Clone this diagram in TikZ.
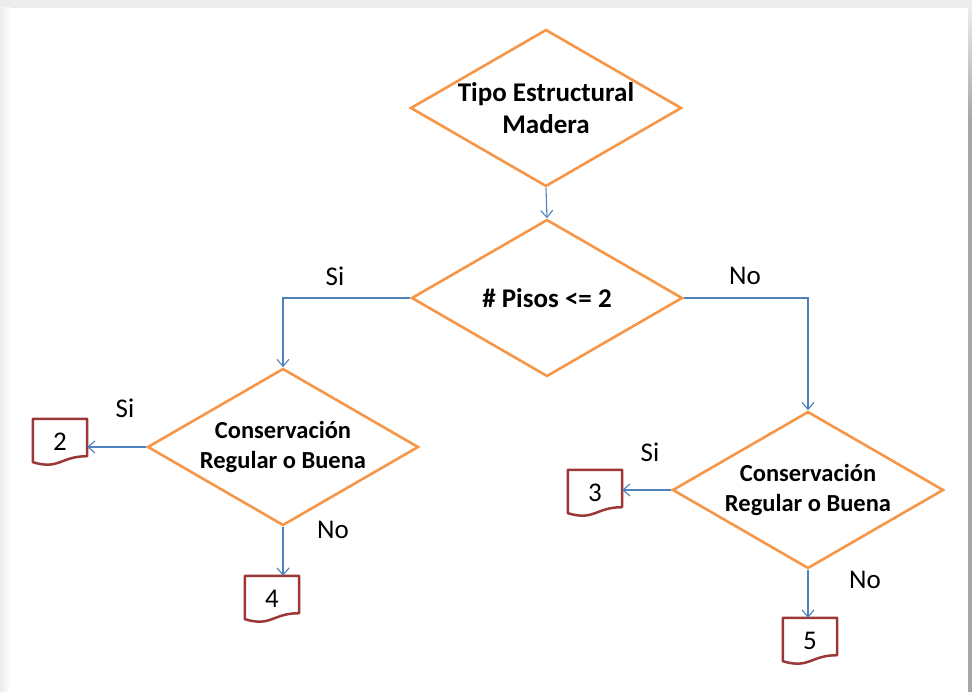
\documentclass[tikz,border=0pt]{standalone}
\usepackage{fontspec}
\setmainfont{Carlito}
\usetikzlibrary{shapes.geometric}
\usetikzlibrary{arrows.meta}
\definecolor{dorange}{RGB}{247,150,70}
\definecolor{lblue}{RGB}{79,129,189}
\definecolor{dred}{RGB}{155,55,55}
\definecolor{framegray}{RGB}{236,236,236}

\tikzset{
  decision/.style={diamond, aspect=1.73, draw=dorange, line width=2.6pt, fill=white,
    minimum width=271pt, minimum height=157pt, inner sep=-8pt, align=center,
    font=\bfseries\fontsize{27}{32}\selectfont},
  smalltext/.style={font=\bfseries\fontsize{24.5}{30}\selectfont},
  flowline/.style={draw=lblue, line width=1.1pt,
    -{Straight Barb[length=7pt,width=12pt]}},
  docbox/.style={minimum width=54pt, minimum height=46pt, inner sep=0pt,
    font=\fontsize{27}{30}\selectfont},
  docline/.style={draw=dred, line width=2.5pt, line join=round},
  answer/.style={font=\fontsize{27}{30}\selectfont},
}

\begin{document}
\begin{tikzpicture}[x=1pt,y=-1pt]
    \useasboundingbox (0,0) rectangle (972,692);
    %page frame
    \fill[framegray] (0,0) rectangle (972,692);
    \shade[left color=framegray, right color=white] (0,8) rectangle (10,692);
    \fill[white] (10,8) rectangle (968,692);
    \shade[top color=gray!15, bottom color=gray!70] (968,8) rectangle (972,120);
    \fill[gray!70] (968,120) rectangle (972,692);
    %decisions
    \node[decision] (tipo) at (546,108) {Tipo Estructural\\Madera};
    \node[decision] (pisos) at (547,298) {\# Pisos <= 2};
    \node[decision, smalltext] (cons1) at (283,447) {Conservación\\Regular o Buena};
    \node[decision, smalltext] (cons2) at (808,490) {Conservación\\Regular o Buena};
    %documents
    \node[docbox] (d2) at (60,442) {2};
    \node[docbox] (d4) at (272,599) {4};
    \node[docbox] (d3) at (595,493) {3};
    \node[docbox] (d5) at (810,641) {5};
    \foreach \d in {d2,d3,d4,d5}
      \draw[docline] (\d.north west) -- (\d.north east) -- ([yshift=9pt]\d.south east)
        .. controls ([xshift=-27pt,yshift=9pt]\d.south east) and ([xshift=27pt,yshift=-5pt]\d.south west)
        .. ([yshift=3pt]\d.south west) -- cycle;
    %connectors
    \draw[flowline] (tipo.south) -- (pisos.north);
    \draw[flowline] (pisos.west) -| (cons1.north);
    \draw[flowline] (pisos.east) -| (cons2.north);
    \draw[flowline] (cons1.west) -- (cons1.west -| d2.east);
    \draw[flowline] (cons1.south) -- (cons1.south |- d4.north);
    \draw[flowline] (cons2.west) -- (cons2.west -| d3.east);
    \draw[flowline] (cons2.south) -- (cons2.south |- d5.north);
    %answers
    \node[answer] (si1) at (335,276) {Si};
    \node[answer] (no1) at (745,276) {No};
    \node[answer] (si2) at (125,408) {Si};
    \node[answer] (no2) at (333,530) {No};
    \node[answer] (si3) at (650,452) {Si};
    \node[answer] (no3) at (865,580) {No};
\end{tikzpicture}
\end{document}
